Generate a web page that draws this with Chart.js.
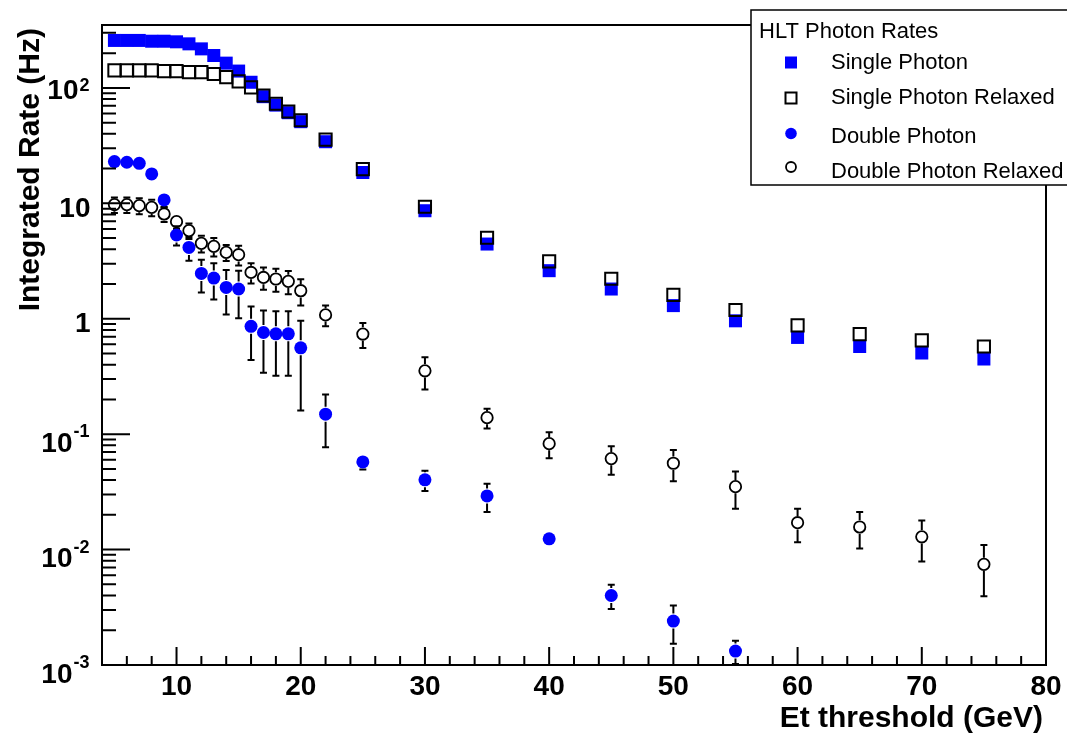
<!DOCTYPE html>
<html>
<head>
<meta charset="utf-8">
<script src="https://cdn.jsdelivr.net/npm/chart.js@4.4.1/dist/chart.umd.min.js"></script>
<style>
  html, body { margin: 0; padding: 0; background: #fff; }
  #wrap { position: relative; width: 1067px; height: 738px; }
</style>
</head>
<body>
<div id="wrap"><canvas id="rates"></canvas></div>
<script>
// Et thresholds (GeV)
const thresholds = [5, 6, 7, 8, 9, 10, 11, 12, 13, 14, 15, 16, 17, 18, 19, 20, 22, 25, 30, 35, 40, 45, 50, 55, 60, 65, 70, 75];
const doubleThresholds = [5, 6, 7, 8, 9, 10, 11, 12, 13, 14, 15, 16, 17, 18, 19, 20, 22, 25, 30, 35, 40, 45, 50, 55];

// integrated rates (Hz)
const singlePhoton = [258, 258, 258, 254, 254, 251, 241, 218, 191, 164, 140, 112, 84, 71, 61, 51, 34.2, 18.5, 8.63, 4.44, 2.61, 1.81, 1.30, 0.96, 0.689, 0.575, 0.505, 0.448];
const singleRelaxed = [142, 142, 142, 142, 140, 140, 137, 137, 132, 124, 114, 101, 86, 73, 62.5, 52.5, 35.6, 19.8, 9.35, 5.03, 3.14, 2.22, 1.61, 1.19, 0.875, 0.737, 0.649, 0.575];
const doublePhoton = [23.0, 22.7, 22.2, 18.0, 10.7, 5.32, 4.15, 2.47, 2.25, 1.87, 1.81, 0.86, 0.76, 0.74, 0.74, 0.56, 0.149, 0.0575, 0.0402, 0.0292, 0.0124, 0.0040, 0.0024, 0.00132];
const doublePhotonErr = [2.7, 2.7, 2.7, 2.5, 1.5, 1.0, 0.97, 0.78, 0.78, 0.78, 0.8, 0.42, 0.42, 0.42, 0.42, 0.4, 0.072, 0.008, 0.008, 0.008, 0.001, 0.00095, 0.00087, 0.0003];
const doubleRelaxed = [9.75, 9.75, 9.55, 9.23, 8.09, 6.94, 5.80, 4.50, 4.24, 3.76, 3.59, 2.52, 2.28, 2.21, 2.11, 1.75, 1.08, 0.737, 0.354, 0.139, 0.0828, 0.0614, 0.0560, 0.0351, 0.0171, 0.0157, 0.0129, 0.00745];
const doubleRelaxedErr = [1.5, 1.5, 1.5, 1.5, 1.2, 0.95, 0.9, 0.75, 0.78, 0.6, 0.7, 0.5, 0.5, 0.5, 0.48, 0.45, 0.22, 0.18, 0.11, 0.027, 0.021, 0.017, 0.017, 0.0125, 0.0055, 0.0055, 0.005, 0.0035];

// axis ticks
const xMajorTicks = [10, 20, 30, 40, 50, 60, 70, 80];
const yMajorTicks = [0.001, 0.01, 0.1, 1, 10, 100];
const yTickLabels = [['10', '-3'], ['10', '-2'], ['10', '-1'], ['1', ''], ['10', ''], ['10', '2']];

const FONT = '"Liberation Sans", Arial, Helvetica, sans-serif';
const BLUE = '#0000ff';

function points(xs, ys) {
  return xs.map((x, i) => ({ x: x, y: ys[i] }));
}

// error bars, drawn from the marker edge outwards like ROOT does
const errorBars = {
  id: 'errorBars',
  beforeDatasetsDraw(chart) {
    const ctx = chart.ctx, xs = chart.scales.x, ys = chart.scales.y, a = chart.chartArea;
    ctx.save();
    ctx.beginPath();
    ctx.rect(a.left, a.top, a.right - a.left, a.bottom - a.top);
    ctx.clip();
    ctx.strokeStyle = '#000';
    ctx.lineWidth = 2;
    chart.data.datasets.forEach(ds => {
      if (!ds.errors) return;
      const r = ds.pointRadius + 1;
      ds.data.forEach((p, i) => {
        const e = ds.errors[i];
        const px = xs.getPixelForValue(p.x);
        const py = ys.getPixelForValue(p.y);
        const top = ys.getPixelForValue(p.y + e);
        const bot = ys.getPixelForValue(Math.max(p.y - e, 1e-4));
        ctx.beginPath();
        if (top < py - r) {
          ctx.moveTo(px, py - r); ctx.lineTo(px, top);
          ctx.moveTo(px - 3.5, top); ctx.lineTo(px + 3.5, top);
        }
        if (bot > py + r) {
          ctx.moveTo(px, py + r); ctx.lineTo(px, bot);
          ctx.moveTo(px - 3.5, bot); ctx.lineTo(px + 3.5, bot);
        }
        ctx.stroke();
      });
    });
    ctx.restore();
  }
};

function drawMarker(ctx, kind, x, y) {
  ctx.beginPath();
  if (kind === 'fullSquare') {
    ctx.fillStyle = BLUE; ctx.fillRect(x - 6, y - 6, 12, 12);
  } else if (kind === 'openSquare') {
    ctx.strokeStyle = '#000'; ctx.lineWidth = 2; ctx.strokeRect(x - 5.5, y - 5.5, 11, 11);
  } else if (kind === 'fullCircle') {
    ctx.fillStyle = BLUE; ctx.arc(x, y, 5.8, 0, Math.PI * 2); ctx.fill();
  } else {
    ctx.strokeStyle = '#000'; ctx.lineWidth = 1.8; ctx.arc(x, y, 5, 0, Math.PI * 2); ctx.stroke();
  }
}

// ROOT style frame, inward ticks, labels, titles and legend
const rootFrame = {
  id: 'rootFrame',
  afterDraw(chart) {
    const ctx = chart.ctx, xs = chart.scales.x, ys = chart.scales.y, a = chart.chartArea;
    ctx.save();
    ctx.strokeStyle = '#000';
    ctx.fillStyle = '#000';
    ctx.lineWidth = 2;
    ctx.strokeRect(a.left, a.top, a.right - a.left, a.bottom - a.top);

    // y ticks
    ctx.beginPath();
    yMajorTicks.forEach(v => {
      const py = ys.getPixelForValue(v);
      ctx.moveTo(a.left, py); ctx.lineTo(a.left + 28, py);
      for (let m = 2; m <= 9; m++) {
        const mv = v * m;
        if (mv > ys.max) break;
        const my = ys.getPixelForValue(mv);
        ctx.moveTo(a.left, my); ctx.lineTo(a.left + 14, my);
      }
    });
    // x ticks
    for (let v = 6; v < xs.max; v += 2) {
      const px = xs.getPixelForValue(v);
      const len = v % 10 === 0 ? 18 : 9;
      ctx.moveTo(px, a.bottom); ctx.lineTo(px, a.bottom - len);
    }
    ctx.stroke();

    // y tick labels
    yMajorTicks.forEach((v, i) => {
      const py = ys.getPixelForValue(v);
      const [base, exp] = yTickLabels[i];
      ctx.textAlign = 'right';
      ctx.textBaseline = 'alphabetic';
      if (exp) {
        ctx.font = 'bold 18px ' + FONT;
        const w = ctx.measureText(exp).width;
        ctx.fillText(exp, 89.5, py + 3);
        ctx.font = 'bold 28px ' + FONT;
        ctx.fillText(base, 89.5 - w - 1, py + (exp[0] === '-' ? 17.5 : 11));
      } else {
        ctx.font = 'bold 28px ' + FONT;
        ctx.fillText(base, 90.5, py + 13.5);
      }
    });

    // x tick labels
    ctx.font = 'bold 28px ' + FONT;
    ctx.textAlign = 'center';
    xMajorTicks.forEach(v => {
      ctx.fillText(String(v), xs.getPixelForValue(v), 695);
    });

    // axis titles
    ctx.font = 'bold 30px ' + FONT;
    ctx.textAlign = 'right';
    ctx.fillText('Et threshold (GeV)', 1043, 727);
    ctx.save();
    ctx.translate(39, 28);
    ctx.rotate(-Math.PI / 2);
    ctx.fillText('Integrated Rate (Hz)', 0, 0);
    ctx.restore();

    // legend
    ctx.fillStyle = '#fff';
    ctx.fillRect(751, 10, 330, 175);
    ctx.lineWidth = 1.5;
    ctx.strokeStyle = '#000';
    ctx.strokeRect(751, 10, 330, 175);
    ctx.fillStyle = '#000';
    ctx.font = '22px ' + FONT;
    ctx.textAlign = 'left';
    ctx.fillText('HLT Photon Rates', 759, 38);
    const kinds = ['fullSquare', 'openSquare', 'fullCircle', 'openCircle'];
    const textY = [69, 104, 143, 178];
    const markY = [62.5, 98, 133.5, 167];
    chart.data.datasets.forEach((ds, i) => {
      ctx.fillStyle = '#000';
      ctx.fillText(ds.label, 831, textY[i]);
      drawMarker(ctx, kinds[i], 791, markY[i]);
    });
    ctx.restore();
  }
};

new Chart(document.getElementById('rates'), {
  type: 'scatter',
  data: {
    datasets: [
      {
        label: 'Single Photon',
        data: points(thresholds, singlePhoton),
        pointStyle: 'rect', pointRadius: 9.2,
        pointBackgroundColor: BLUE, pointBorderWidth: 0,
        order: 4
      },
      {
        label: 'Single Photon Relaxed',
        data: points(thresholds, singleRelaxed),
        pointStyle: 'rect', pointRadius: 8.6,
        pointBackgroundColor: 'rgba(0,0,0,0)', pointBorderColor: '#000', pointBorderWidth: 2,
        order: 3
      },
      {
        label: 'Double Photon',
        data: points(doubleThresholds, doublePhoton),
        errors: doublePhotonErr,
        pointStyle: 'circle', pointRadius: 6.5,
        pointBackgroundColor: BLUE, pointBorderWidth: 0,
        order: 2
      },
      {
        label: 'Double Photon Relaxed',
        data: points(thresholds, doubleRelaxed),
        errors: doubleRelaxedErr,
        pointStyle: 'circle', pointRadius: 5.7,
        pointBackgroundColor: 'rgba(0,0,0,0)', pointBorderColor: '#000', pointBorderWidth: 1.8,
        order: 1
      }
    ]
  },
  options: {
    responsive: true,
    maintainAspectRatio: false,
    animation: false,
    events: [],
    layout: { padding: { top: 25, right: 21, left: 0, bottom: 0 } },
    plugins: { legend: { display: false }, tooltip: { enabled: false } },
    scales: {
      x: {
        type: 'linear', min: 4, max: 80,
        ticks: { display: false }, grid: { display: false }, border: { display: false },
        afterFit(s) { s.height = 73; }
      },
      y: {
        type: 'logarithmic', min: 0.001, max: 351,
        ticks: { display: false }, grid: { display: false }, border: { display: false },
        afterFit(s) { s.width = 102; }
      }
    }
  },
  plugins: [errorBars, rootFrame]
});
</script>
</body>
</html>
